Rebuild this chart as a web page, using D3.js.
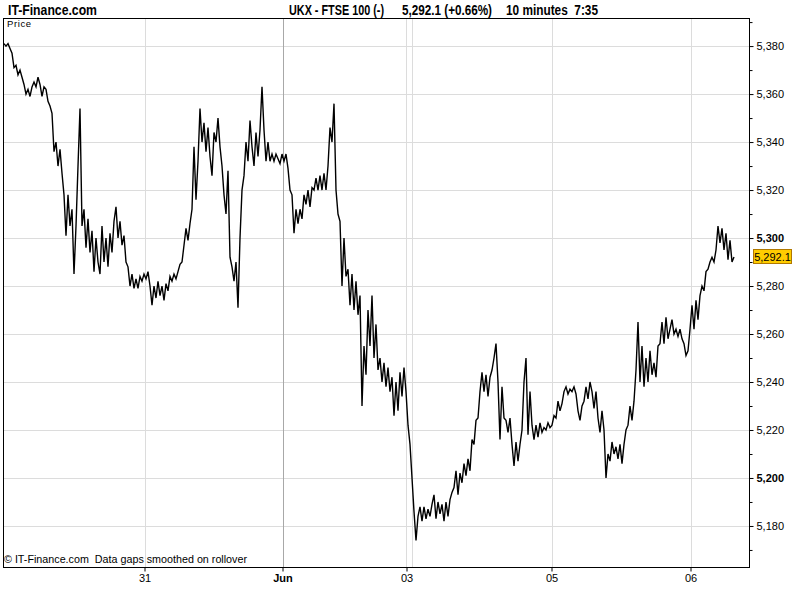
<!DOCTYPE html>
<html><head><meta charset="utf-8">
<script src="https://cdn.jsdelivr.net/npm/d3@7"></script>
<style>
body{margin:0;background:#fff}
svg{display:block}
text{font-family:"Liberation Sans",Arial,sans-serif;fill:#000}
</style>
</head><body>
<svg id="chart" width="800" height="600"></svg>
<script>
// ---- data (10-minute closes) ----
const prices = [
5381,5380,5381,5379,5377,5371,5372,5368,5370,5367,
5364,5360,5362,5359,5363,5365,5363,5367,5364,5359,
5363,5362,5357,5355,5352,5336,5340,5330,5337,5327,
5318,5301,5318,5305,5312,5285,5305,5330,5354,5305,
5312,5296,5308,5294,5303,5286,5300,5290,5285,5305,
5290,5300,5288,5302,5294,5307,5313,5300,5307,5297,
5301,5290,5288,5280,5285,5279,5283,5279,5284,5282,
5285,5283,5286,5280,5272,5280,5275,5282,5276,5280,
5274,5281,5278,5284,5282,5285,5283,5286,5289,5290,
5297,5304,5299,5306,5312,5338,5316,5332,5354,5340,
5348,5336,5346,5334,5326,5344,5340,5350,5338,5330,
5318,5310,5328,5292,5288,5282,5290,5271,5300,5320,
5326,5340,5332,5349,5338,5330,5344,5334,5345,5363,
5345,5332,5340,5332,5335,5332,5335,5333,5331,5335,
5332,5335,5329,5320,5318,5302,5312,5306,5312,5308,
5318,5314,5320,5313,5321,5320,5325,5320,5326,5320,
5327,5320,5330,5346,5340,5356,5320,5310,5307,5280,
5300,5284,5287,5272,5285,5270,5282,5268,5276,5230,
5255,5243,5270,5255,5276,5250,5264,5245,5250,5240,
5248,5238,5246,5236,5242,5226,5240,5228,5244,5234,
5246,5236,5222,5214,5200,5186,5174,5184,5188,5182,
5188,5183,5187,5184,5189,5193,5183,5190,5185,5189,
5182,5190,5184,5191,5194,5196,5203,5193,5202,5198,
5206,5201,5208,5203,5216,5214,5224,5225,5236,5244,
5236,5243,5234,5242,5245,5250,5256,5240,5216,5238,
5225,5224,5219,5225,5214,5205,5215,5207,5214,5220,
5240,5250,5218,5236,5222,5216,5222,5217,5223,5219,
5221,5220,5223,5221,5222,5226,5225,5232,5228,5231,
5236,5238,5235,5237,5236,5238,5235,5228,5224,5230,
5232,5238,5233,5240,5236,5229,5236,5225,5219,5228,
5220,5200,5210,5207,5215,5210,5213,5208,5214,5206,
5214,5220,5222,5230,5224,5232,5245,5265,5240,5255,
5238,5250,5240,5253,5243,5248,5242,5255,5256,5265,
5256,5267,5258,5262,5266,5260,5262,5259,5262,5258,
5256,5251,5253,5262,5272,5262,5274,5266,5276,5280,
5278,5286,5287,5290,5292,5290,5295,5305,5298,5304,
5295,5302,5291,5299,5290,5292.1
];
const yTickValues = [5180,5200,5220,5240,5260,5280,5300,5320,5340,5360,5380];
const yBoldTicks = [5200,5300];
const yMinorValues = [5170,5190,5210,5230,5250,5270,5290,5310,5330,5350,5370,5390];
const xTickIndex = [70.25,139.25,201.25,273.75,343.25];
const xTickLabels = ["31","Jun","03","05","06"];
const xBoldLabels = ["Jun"];
const xExtraGridIndex = [204.25];
const xMonthIndex = [139.25];
const lastValue = 5292.1;
const siteName = "IT-Finance.com";
const titleParts = ["UKX - FTSE 100 (-)", "5,292.1 (+0.66%)", "10 minutes  7:35"];
const footerText = "\u00A9 IT-Finance.com  Data gaps smoothed on rollover";

// ---- layout ----
const P = {left:3, top:18, right:749, bottom:567};
const svg = d3.select("#chart");
const fmt = d3.format(",");

const x = d3.scaleLinear().domain([0, prices.length - 1]).range([4, 734]);
const y = d3.scaleLinear().domain([5162.9, 5391.7]).range([P.bottom, P.top]);

// gridlines
const g = svg.append("g");
g.selectAll("line.hg").data(yTickValues).join("line")
  .attr("x1", P.left).attr("x2", P.right)
  .attr("y1", d => Math.round(y(d)) + 0.5).attr("y2", d => Math.round(y(d)) + 0.5)
  .attr("stroke", "#dcdcdc").attr("stroke-width", 1);
g.selectAll("line.vg").data(xTickIndex.concat(xExtraGridIndex)).join("line")
  .attr("x1", d => Math.round(x(d)) + 0.5).attr("x2", d => Math.round(x(d)) + 0.5)
  .attr("y1", P.top).attr("y2", P.bottom)
  .attr("stroke", d => xMonthIndex.includes(d) ? "#a8a8a8" : "#dcdcdc").attr("stroke-width", 1);

// price line
svg.append("path").datum(prices)
  .attr("d", d3.line().x((d, i) => x(i)).y(d => y(d)))
  .attr("fill", "none").attr("stroke", "#000").attr("stroke-width", 1.4)
  .attr("stroke-linejoin", "miter");

// frame
svg.append("rect").attr("x", P.left + 0.5).attr("y", P.top + 0.5)
  .attr("width", P.right - P.left).attr("height", P.bottom - P.top)
  .attr("fill", "none").attr("stroke", "#000").attr("stroke-width", 1);

// right axis
const yAxis = d3.axisRight(y).tickValues(yTickValues).tickSize(4).tickPadding(3).tickFormat(fmt);
const ya = svg.append("g").attr("transform", `translate(${P.right + 0.5},0)`).call(yAxis);
ya.select(".domain").remove();
ya.selectAll("text").attr("font-size", 11).attr("font-family", '"Liberation Sans",Arial,sans-serif')
  .attr("font-weight", d => yBoldTicks.includes(d) ? "bold" : "normal").attr("fill", "#000");
const yMinor = d3.axisRight(y).tickValues(yMinorValues).tickSize(3).tickFormat("");
const ym = svg.append("g").attr("transform", `translate(${P.right + 0.5},0)`).call(yMinor);
ym.select(".domain").remove();

// bottom axis
const xAxis = d3.axisBottom(x).tickValues(xTickIndex).tickSize(4).tickPadding(3)
  .tickFormat((d, i) => xTickLabels[i]);
const xa = svg.append("g").attr("transform", `translate(0,${P.bottom + 0.5})`).call(xAxis);
xa.select(".domain").remove();
xa.selectAll("text").attr("font-size", 11).attr("font-family", '"Liberation Sans",Arial,sans-serif')
  .attr("font-weight", (d, i) => xBoldLabels.includes(xTickLabels[i]) ? "bold" : "normal").attr("fill", "#000");

// last value box
const ly = y(lastValue);
svg.append("rect").attr("x", 753.5).attr("y", Math.round(ly) - 7.5).attr("width", 38).attr("height", 14)
  .attr("fill", "#ffcc00").attr("stroke", "#b07800").attr("stroke-width", 1);
svg.append("text").attr("x", 772.5).attr("y", ly + 4).attr("text-anchor", "middle")
  .attr("font-size", 11).text(d3.format(",.1f")(lastValue));

// header
svg.append("text").attr("x", 8).attr("y", 15).attr("font-size", 14).attr("font-weight", "bold")
  .attr("textLength", 89).attr("lengthAdjust", "spacingAndGlyphs").text(siteName);
const tx = [289, 402, 506], tl = [95, 90, 92];
titleParts.forEach((t, i) => {
  svg.append("text").attr("x", tx[i]).attr("y", 15).attr("font-size", 14).attr("font-weight", "bold")
    .style("white-space", "pre")
    .attr("textLength", tl[i]).attr("lengthAdjust", "spacingAndGlyphs").text(t);
});

// inner labels
svg.append("text").attr("x", 7).attr("y", 27).attr("font-size", 9.5).attr("letter-spacing", 0.6).text("Price");
svg.append("text").attr("x", 4).attr("y", 563).attr("font-size", 11)
  .style("white-space", "pre").attr("textLength", 243).attr("lengthAdjust", "spacingAndGlyphs").text(footerText);
</script>
</body></html>
